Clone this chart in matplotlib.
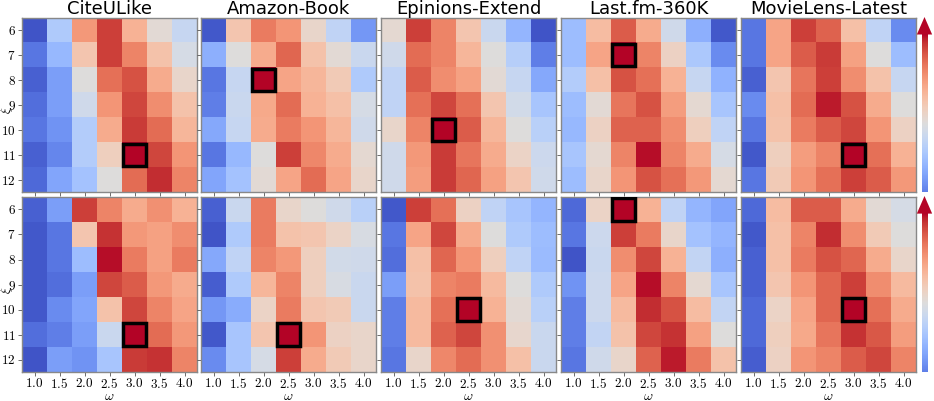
import numpy as np
import matplotlib
matplotlib.use('Agg')
import matplotlib.pyplot as plt
from matplotlib.patches import Rectangle, Polygon

plt.rcParams['mathtext.fontset'] = 'cm'

datasets = ['CiteULike', 'Amazon-Book', 'Epinions-Extend', 'Last.fm-360K', 'MovieLens-Latest']
omega = ['1.0', '1.5', '2.0', '2.5', '3.0', '3.5', '4.0']
xi = ['6', '7', '8', '9', '10', '11', '12']

# 上排 (rows = xi 6..12, cols = omega 1.0..4.0), normalised scores
citeulike_top = [
    [0.02, 0.35, 0.75, 0.93, 0.68, 0.52, 0.42],
    [0.10, 0.28, 0.62, 0.93, 0.80, 0.63, 0.47],
    [0.05, 0.20, 0.50, 0.84, 0.90, 0.70, 0.55],
    [0.08, 0.20, 0.45, 0.76, 0.92, 0.78, 0.63],
    [0.10, 0.17, 0.36, 0.70, 0.94, 0.85, 0.67],
    [0.05, 0.14, 0.36, 0.58, 1.00, 0.92, 0.76],
    [0.07, 0.22, 0.32, 0.50, 0.85, 0.96, 0.80],
]
amazon_top = [
    [0.03, 0.62, 0.82, 0.76, 0.55, 0.40, 0.18],
    [0.25, 0.50, 0.70, 0.86, 0.63, 0.52, 0.43],
    [0.10, 0.42, 1.00, 0.72, 0.67, 0.60, 0.35],
    [0.12, 0.43, 0.71, 0.85, 0.68, 0.64, 0.47],
    [0.23, 0.42, 0.70, 0.82, 0.76, 0.67, 0.45],
    [0.10, 0.28, 0.50, 0.93, 0.79, 0.70, 0.53],
    [0.22, 0.32, 0.52, 0.72, 0.85, 0.72, 0.55],
]
epinions_top = [
    [0.53, 0.93, 0.80, 0.62, 0.43, 0.27, 0.02],
    [0.45, 0.85, 0.80, 0.67, 0.50, 0.37, 0.12],
    [0.40, 0.88, 0.78, 0.73, 0.52, 0.42, 0.23],
    [0.40, 0.84, 0.92, 0.84, 0.62, 0.46, 0.33],
    [0.55, 0.80, 1.00, 0.88, 0.67, 0.50, 0.38],
    [0.45, 0.75, 0.94, 0.83, 0.70, 0.56, 0.44],
    [0.45, 0.74, 0.94, 0.86, 0.73, 0.62, 0.45],
]
lastfm_top = [
    [0.30, 0.65, 0.88, 0.70, 0.45, 0.25, 0.03],
    [0.30, 0.72, 1.00, 0.80, 0.57, 0.34, 0.15],
    [0.36, 0.64, 0.90, 0.84, 0.68, 0.42, 0.26],
    [0.30, 0.52, 0.83, 0.90, 0.74, 0.53, 0.33],
    [0.28, 0.57, 0.87, 0.87, 0.78, 0.58, 0.40],
    [0.33, 0.53, 0.80, 0.99, 0.80, 0.70, 0.47],
    [0.30, 0.55, 0.76, 0.90, 0.84, 0.75, 0.53],
]
movielens_top = [
    [0.10, 0.72, 0.93, 0.87, 0.64, 0.40, 0.15],
    [0.10, 0.72, 0.88, 0.94, 0.73, 0.50, 0.30],
    [0.05, 0.62, 0.83, 0.93, 0.78, 0.63, 0.42],
    [0.15, 0.64, 0.85, 0.98, 0.90, 0.70, 0.50],
    [0.10, 0.63, 0.82, 0.88, 0.92, 0.76, 0.57],
    [0.03, 0.58, 0.74, 0.80, 1.00, 0.84, 0.68],
    [0.10, 0.60, 0.76, 0.84, 0.93, 0.88, 0.75],
]

# 下排
citeulike_bot = [
    [0.05, 0.20, 0.93, 0.80, 0.70, 0.77, 0.68],
    [0.03, 0.10, 0.62, 0.95, 0.75, 0.73, 0.78],
    [0.03, 0.10, 0.30, 0.99, 0.82, 0.73, 0.82],
    [0.03, 0.08, 0.20, 0.92, 0.88, 0.75, 0.70],
    [0.03, 0.15, 0.22, 0.63, 0.92, 0.80, 0.72],
    [0.08, 0.12, 0.20, 0.43, 1.00, 0.85, 0.75],
    [0.02, 0.20, 0.17, 0.33, 0.94, 0.95, 0.80],
]
amazon_bot = [
    [0.05, 0.43, 0.82, 0.55, 0.50, 0.45, 0.38],
    [0.02, 0.35, 0.82, 0.63, 0.62, 0.56, 0.48],
    [0.23, 0.40, 0.80, 0.75, 0.58, 0.46, 0.45],
    [0.04, 0.35, 0.67, 0.80, 0.58, 0.48, 0.43],
    [0.18, 0.24, 0.56, 0.82, 0.62, 0.60, 0.43],
    [0.03, 0.33, 0.62, 1.00, 0.76, 0.57, 0.55],
    [0.15, 0.33, 0.47, 0.93, 0.70, 0.60, 0.55],
]
epinions_bot = [
    [0.03, 0.93, 0.84, 0.57, 0.40, 0.33, 0.27],
    [0.10, 0.72, 0.92, 0.70, 0.50, 0.35, 0.30],
    [0.08, 0.64, 0.86, 0.76, 0.58, 0.40, 0.29],
    [0.20, 0.63, 0.80, 0.82, 0.66, 0.50, 0.35],
    [0.12, 0.66, 0.84, 1.00, 0.68, 0.52, 0.38],
    [0.12, 0.66, 0.87, 0.92, 0.77, 0.54, 0.43],
    [0.10, 0.55, 0.79, 0.85, 0.77, 0.64, 0.43],
]
lastfm_bot = [
    [0.07, 0.56, 1.00, 0.68, 0.40, 0.27, 0.22],
    [0.10, 0.44, 0.93, 0.82, 0.55, 0.32, 0.27],
    [0.02, 0.43, 0.78, 0.92, 0.68, 0.41, 0.25],
    [0.17, 0.44, 0.72, 0.99, 0.80, 0.53, 0.33],
    [0.12, 0.44, 0.66, 0.96, 0.90, 0.65, 0.41],
    [0.12, 0.41, 0.63, 0.92, 0.95, 0.73, 0.50],
    [0.10, 0.45, 0.55, 0.87, 0.98, 0.82, 0.63],
]
movielens_bot = [
    [0.07, 0.65, 0.88, 0.88, 0.70, 0.52, 0.47],
    [0.03, 0.64, 0.80, 0.96, 0.78, 0.60, 0.50],
    [0.05, 0.64, 0.82, 0.90, 0.86, 0.70, 0.55],
    [0.05, 0.62, 0.76, 0.86, 0.93, 0.78, 0.66],
    [0.07, 0.56, 0.72, 0.86, 1.00, 0.84, 0.70],
    [0.07, 0.58, 0.71, 0.83, 0.95, 0.89, 0.74],
    [0.04, 0.57, 0.76, 0.80, 0.88, 0.92, 0.80],
]

top_rows = [citeulike_top, amazon_top, epinions_top, lastfm_top, movielens_top]
bot_rows = [citeulike_bot, amazon_bot, epinions_bot, lastfm_bot, movielens_bot]

W, H = 934, 401
fig = plt.figure(figsize=(W / 100, H / 100), dpi=100)

lefts = [22, 201, 381, 561, 741]
pw = 175
row_boxes = [(18, 174), (197, 175)]  # (top px, height px)
cmap = plt.get_cmap('coolwarm')

for r, rows in enumerate([top_rows, bot_rows]):
    ytop, ph = row_boxes[r]
    for c, data in enumerate(rows):
        m = np.array(data)
        ax = fig.add_axes([lefts[c] / W, 1 - (ytop + ph) / H, pw / W, ph / H])
        ax.imshow(m, cmap=cmap, vmin=0, vmax=1, aspect='auto', interpolation='nearest')
        i, j = np.unravel_index(np.argmax(m), m.shape)
        ax.add_patch(Rectangle((j - 0.45, i - 0.45), 0.9, 0.9, fill=False,
                               edgecolor='black', linewidth=2.5, zorder=5))
        ax.set_xticks(range(len(omega)))
        ax.set_yticks(range(len(xi)))
        for s in ax.spines.values():
            s.set_color('#888888')
            s.set_linewidth(1.0)
        ax.tick_params(length=3, width=0.6, color='#555555', labelsize=9.5, pad=1.5)
        ax.tick_params(axis='x', pad=0.5)
        if c == 0:
            ax.set_yticklabels(['$%s$' % v for v in xi])
            ax.set_ylabel(r'$\xi$', fontsize=9, va='center', ha='center')
            ax.yaxis.set_label_coords(-15.5 / pw, 0.47)
        else:
            ax.set_yticklabels([])
        if r == 1:
            ax.set_xticklabels(['$%s$' % v for v in omega])
            ax.set_xlabel(r'$\omega$', fontsize=10, va='center')
            ax.xaxis.set_label_coords(0.5, -23.5 / ph)
        else:
            ax.set_xticklabels([])
            ax.set_title(datasets[c], fontsize=13, pad=2)

# 颜色箭头
for r in range(2):
    ytop, ph = row_boxes[r]
    cax = fig.add_axes([916 / W, 1 - (ytop + ph) / H, 17 / W, (ph + 1) / H])
    cax.set_xlim(0, 1)
    cax.set_ylim(0, 1)
    cax.axis('off')
    grad = np.linspace(0.12, 1.0, 256).reshape(-1, 1)
    cax.imshow(grad, cmap=cmap, vmin=0, vmax=1, aspect='auto', origin='lower',
               extent=[0.33, 0.67, 0.0, 0.9])
    cax.add_patch(Polygon([[0.05, 0.9], [0.95, 0.9], [0.5, 1.0]], closed=True,
                          facecolor=cmap(1.0), edgecolor='none'))

fig.savefig('out.png', dpi=100)
